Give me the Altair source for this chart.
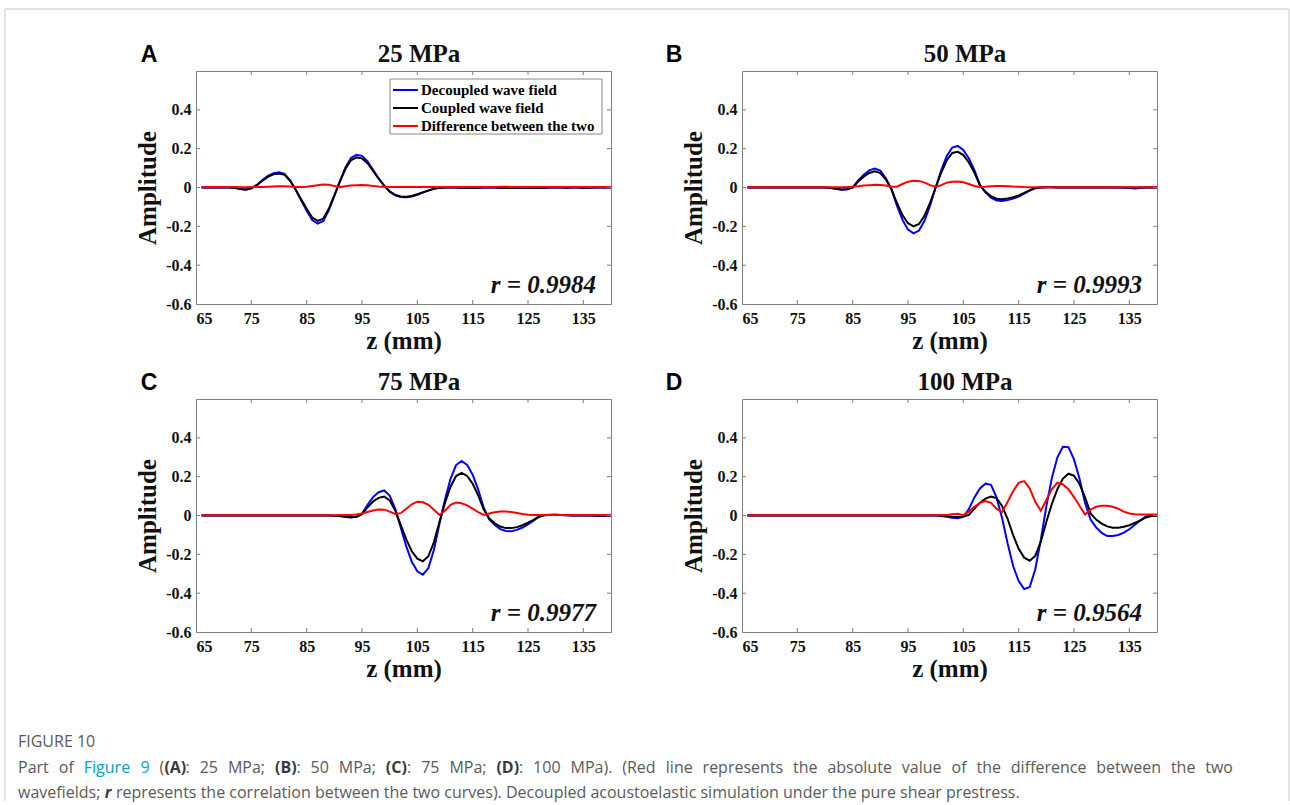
import altair as alt
import pandas as pd

# ---------------- data ----------------
z = list(range(66, 141))

A_dec = [0, 0, 0, 0, 0, 0, -0.002, -0.008, -0.011, -0.004,
         0.013, 0.038, 0.06, 0.074, 0.078, 0.07, 0.037, -0.012, -0.066, -0.12,
         -0.168, -0.186, -0.172, -0.118, -0.043, 0.032, 0.103, 0.152, 0.169, 0.163,
         0.135, 0.091, 0.048, 0.01, -0.022, -0.04, -0.049, -0.05, -0.046, -0.037,
         -0.026, -0.016, -0.007, -0.002, 0, 0.001, 0, -0.001, -0.002, -0.003,
         -0.001, 0, 0.001, 0, -0.002, -0.002, -0.003, -0.002, 0, -0.001,
         -0.003, -0.003, -0.001, 0, 0.001, 0, -0.001, 0, 0, -0.002,
         -0.001, 0, 0, 0, 0]
A_cou = [0, 0, 0, 0, 0, 0, -0.002, -0.008, -0.01, -0.004,
         0.012, 0.035, 0.055, 0.068, 0.072, 0.065, 0.035, -0.01, -0.06, -0.11,
         -0.155, -0.172, -0.16, -0.11, -0.04, 0.03, 0.095, 0.14, 0.155, 0.15,
         0.125, 0.085, 0.045, 0.01, -0.02, -0.038, -0.046, -0.048, -0.044, -0.035,
         -0.025, -0.015, -0.007, -0.002, 0, 0.001, 0, -0.001, -0.001, -0.002,
         -0.001, 0, 0.001, 0, -0.001, -0.002, -0.002, -0.001, 0, -0.001,
         -0.002, -0.002, -0.001, 0, 0.001, 0, -0.001, 0, 0, -0.001,
         -0.001, 0, 0, 0, 0]
A_diff = [0.001, 0.001, 0.002, 0.002, 0.003, 0.003, 0.002, 0.001, 0.001, 0.002,
          0.002, 0.003, 0.004, 0.005, 0.006, 0.006, 0.005, 0.003, 0.002, 0.004,
          0.008, 0.012, 0.015, 0.014, 0.008, 0.002, 0.006, 0.01, 0.012, 0.013,
          0.011, 0.008, 0.005, 0.003, 0.003, 0.003, 0.003, 0.003, 0.003, 0.003,
          0.002, 0.002, 0.002, 0.002, 0.002, 0.002, 0.002, 0.002, 0.002, 0.002,
          0.003, 0.003, 0.003, 0.003, 0.004, 0.004, 0.003, 0.002, 0.002, 0.002,
          0.003, 0.003, 0.002, 0.002, 0.002, 0.002, 0.002, 0.002, 0.002, 0.002,
          0.002, 0.002, 0.002, 0.002, 0.002]

B_dec = [0, 0, 0, 0, 0, 0, 0, 0, 0, 0,
         0, 0, 0, 0, 0, -0.002, -0.007, -0.012, -0.01, 0,
         0.036, 0.066, 0.088, 0.098, 0.087, 0.048, -0.009, -0.094, -0.166, -0.217,
         -0.236, -0.222, -0.17, -0.092, 0, 0.088, 0.162, 0.206, 0.214, 0.193,
         0.149, 0.089, 0.013, -0.025, -0.052, -0.067, -0.069, -0.064, -0.057, -0.047,
         -0.032, -0.016, -0.003, 0, 0.001, 0.001, 0, 0, 0, 0,
         0, 0, 0, 0, 0, 0, 0, 0, -0.001, -0.003,
         -0.005, -0.002, 0, 0, 0]
B_cou = [0, 0, 0, 0, 0, 0, 0, 0, 0, 0,
         0, 0, 0, 0, 0, -0.002, -0.006, -0.01, -0.008, 0,
         0.031, 0.056, 0.075, 0.083, 0.074, 0.041, -0.008, -0.08, -0.142, -0.184,
         -0.2, -0.188, -0.144, -0.078, 0, 0.076, 0.14, 0.178, 0.184, 0.167,
         0.129, 0.077, 0.011, -0.022, -0.045, -0.058, -0.06, -0.056, -0.05, -0.041,
         -0.028, -0.014, -0.003, 0, 0.001, 0.001, 0, 0, 0, 0,
         0, 0, 0, 0, 0, 0, 0, 0, 0, 0,
         0, 0, 0, 0, 0]
B_diff = [0.001, 0.001, 0.001, 0.001, 0.001, 0.001, 0.001, 0.001, 0.001, 0.001,
          0.001, 0.001, 0.001, 0.001, 0.001, 0.001, 0.001, 0.001, 0.002, 0.004,
          0.006, 0.01, 0.012, 0.014, 0.013, 0.01, 0.004, 0.004, 0.018, 0.03,
          0.035, 0.034, 0.025, 0.012, 0.003, 0.012, 0.025, 0.03, 0.031, 0.027,
          0.018, 0.008, 0.003, 0.004, 0.006, 0.008, 0.008, 0.007, 0.005, 0.004,
          0.002, 0.001, 0.001, 0.001, 0.001, 0.001, 0.001, 0.001, 0.001, 0.001,
          0.001, 0.001, 0.001, 0.001, 0.001, 0.001, 0.001, 0.001, 0.001, 0.001,
          0.001, 0.001, 0.001, 0.001, 0.001]

C_dec = [0, 0, 0, 0, 0, 0, 0, 0, 0, 0,
         0, 0, 0, 0, 0, 0, 0, 0, 0, 0,
         0, 0, 0, 0, -0.001, -0.003, -0.007, -0.01, -0.007, 0.009,
         0.055, 0.095, 0.12, 0.129, 0.103, 0.034, -0.062, -0.159, -0.238, -0.287,
         -0.305, -0.271, -0.177, -0.043, 0.083, 0.189, 0.26, 0.281, 0.261, 0.21,
         0.133, 0.04, -0.02, -0.049, -0.07, -0.08, -0.081, -0.074, -0.062, -0.046,
         -0.027, -0.006, 0.002, 0.004, 0.005, 0.003, 0.001, 0, 0, 0,
         0, -0.001, -0.002, -0.001, 0]
C_cou = [0, 0, 0, 0, 0, 0, 0, 0, 0, 0,
         0, 0, 0, 0, 0, 0, 0, 0, 0, 0,
         0, 0, 0, 0, -0.001, -0.003, -0.006, -0.009, -0.006, 0.007,
         0.042, 0.072, 0.091, 0.098, 0.078, 0.026, -0.048, -0.123, -0.184, -0.222,
         -0.236, -0.21, -0.137, -0.033, 0.065, 0.148, 0.203, 0.22, 0.204, 0.164,
         0.104, 0.031, -0.016, -0.04, -0.057, -0.065, -0.065, -0.06, -0.05, -0.037,
         -0.022, -0.005, 0.001, 0.003, 0.003, 0.002, 0.001, 0, 0, 0,
         0, 0, 0, 0, 0]
C_diff = [0.001, 0.001, 0.001, 0.001, 0.001, 0.001, 0.001, 0.001, 0.001, 0.001,
          0.001, 0.001, 0.001, 0.001, 0.001, 0.001, 0.001, 0.001, 0.001, 0.001,
          0.001, 0.001, 0.001, 0.001, 0.001, 0.002, 0.003, 0.003, 0.005, 0.01,
          0.018, 0.026, 0.031, 0.03, 0.02, 0.008, 0.012, 0.035, 0.058, 0.071,
          0.068, 0.055, 0.03, 0.003, 0.025, 0.055, 0.067, 0.063, 0.052, 0.035,
          0.017, 0.003, 0.01, 0.017, 0.02, 0.021, 0.018, 0.013, 0.008, 0.004,
          0.002, 0.002, 0.002, 0.002, 0.002, 0.002, 0.002, 0.002, 0.002, 0.002,
          0.002, 0.002, 0.002, 0.002, 0.002]

D_dec = [0, 0, 0, 0, 0, 0, 0, 0, 0, 0,
         0, 0, 0, 0, 0, 0, 0, 0, 0, 0,
         0, 0, 0, 0, 0, 0, 0, 0, 0, 0,
         0, 0, 0, 0, 0, -0.002, -0.006, -0.011, -0.014, -0.007,
         0.033, 0.093, 0.139, 0.164, 0.158, 0.093, -0.013, -0.143, -0.26, -0.338,
         -0.379, -0.368, -0.277, -0.126, 0.047, 0.193, 0.3, 0.354, 0.352, 0.289,
         0.189, 0.065, -0.021, -0.061, -0.09, -0.106, -0.106, -0.1, -0.088, -0.071,
         -0.048, -0.025, -0.005, -0.001, 0]
D_cou = [0, 0, 0, 0, 0, 0, 0, 0, 0, 0,
         0, 0, 0, 0, 0, 0, 0, 0, 0, 0,
         0, 0, 0, 0, 0, 0, 0, 0, 0, 0,
         0, 0, 0, 0, 0, -0.001, -0.003, -0.006, -0.008, -0.005,
         0.003, 0.036, 0.066, 0.087, 0.097, 0.09, 0.049, -0.017, -0.101, -0.172,
         -0.217, -0.233, -0.208, -0.135, -0.033, 0.06, 0.136, 0.19, 0.215, 0.205,
         0.162, 0.093, 0.011, -0.021, -0.042, -0.056, -0.063, -0.063, -0.058, -0.05,
         -0.038, -0.025, -0.01, -0.003, -0.001]
D_diff = [0.001, 0.001, 0.001, 0.001, 0.001, 0.001, 0.001, 0.001, 0.001, 0.001,
          0.001, 0.001, 0.001, 0.001, 0.001, 0.001, 0.001, 0.001, 0.001, 0.001,
          0.001, 0.001, 0.001, 0.001, 0.001, 0.001, 0.001, 0.001, 0.001, 0.001,
          0.001, 0.001, 0.001, 0.001, 0.001, 0.002, 0.003, 0.006, 0.009, 0.002,
          0.02, 0.045, 0.065, 0.074, 0.065, 0.035, 0.017, 0.07, 0.125, 0.168,
          0.177, 0.14, 0.07, 0.025, 0.08, 0.135, 0.169, 0.16, 0.135, 0.095,
          0.05, 0.005, 0.03, 0.045, 0.05, 0.05, 0.045, 0.035, 0.02, 0.01,
          0.006, 0.005, 0.005, 0.005, 0.005]

panel_titles = ["25 MPa", "50 MPa", "75 MPa", "100 MPa"]
panel_letters = ["A", "B", "C", "D"]
r_labels = ["r = 0.9984", "r = 0.9993", "r = 0.9977", "r = 0.9564"]
legend_labels = ["Decoupled wave field", "Coupled wave field", "Difference between the two"]
series_colors = ["#0000ff", "#000000", "#ff0000"]

x_ticks = [65, 75, 85, 95, 105, 115, 125, 135]
y_ticks = [-0.6, -0.4, -0.2, 0, 0.2, 0.4]

caption_title = "FIGURE 10"
# [..] = link colour, *..* = bold, ~..~ = bold italic
caption_line1 = "Part of [Figure 9] (*(A)*: 25 MPa; *(B)*: 50 MPa; *(C)*: 75 MPa; *(D)*: 100 MPa). (Red line represents the absolute value of the difference between the two"
caption_line2 = "wavefields; ~r~ represents the correlation between the two curves). Decoupled acoustoelastic simulation under the pure shear prestress."

# ---------------- layout constants ----------------
W, H = 415, 233
SERIF = "Liberation Serif"
SANS = "Liberation Sans"
CAP = "Open Sans"
CAPSIZE = 16
BOX = "#7f7f7f"
CAPCOL = "#5a5a5a"
LINKCOL = "#00a3c4"
BOLDCOL = "#3a3a3a"

xs = alt.Scale(domain=[65, 140], nice=False, zero=False)
ys = alt.Scale(domain=[-0.6, 0.6], nice=False, zero=False)
x_axis = alt.Axis(values=x_ticks, format="d", title="z (mm)", labelPadding=6, titlePadding=2)
y_axis = alt.Axis(values=y_ticks, title="Amplitude", labelPadding=5, titlePadding=5,
                  labelExpr="datum.value == 0 ? '0' : (datum.value < 0 ? '-' : '') + format(abs(datum.value), '.1f')")

one = pd.DataFrame({"k": [0]})


def txt(text, x, y, **kw):
    return alt.Chart(one).mark_text(text=text, **kw).encode(x=alt.value(x), y=alt.value(y))


def panel(dec, cou, diff, idx, lx, extra=None):
    df = pd.DataFrame({"z": z, "dec": dec, "cou": cou, "diff": diff})
    base = alt.Chart(df)
    X = alt.X("z:Q", scale=xs, axis=x_axis)
    layers = []
    for col, colr in zip(["dec", "cou", "diff"], series_colors):
        layers.append(base.mark_line(color=colr, strokeWidth=2).encode(
            x=X, y=alt.Y(f"{col}:Q", scale=ys, axis=y_axis)))
    xt = pd.DataFrame({"t": x_ticks[1:]})
    yt = pd.DataFrame({"t": y_ticks[1:]})
    TX = alt.X("t:Q", scale=xs, axis=x_axis)
    TY = alt.Y("t:Q", scale=ys, axis=y_axis)
    layers += [
        alt.Chart(xt).mark_rule(color=BOX).encode(x=TX, y=alt.value(H), y2=alt.value(H - 4)),
        alt.Chart(xt).mark_rule(color=BOX).encode(x=TX, y=alt.value(0), y2=alt.value(4)),
        alt.Chart(yt).mark_rule(color=BOX).encode(y=TY, x=alt.value(0), x2=alt.value(4)),
        alt.Chart(yt).mark_rule(color=BOX).encode(y=TY, x=alt.value(W), x2=alt.value(W - 4)),
    ]
    layers.append(txt(panel_titles[idx], 223, -17, font=SERIF, fontSize=25, fontWeight="bold",
                      align="center", baseline="middle", color="#111"))
    layers.append(txt(panel_letters[idx], lx, -16, font=SANS, fontSize=23, fontWeight="bold",
                      align="center", baseline="middle", color="#000"))
    layers.append(txt(r_labels[idx], 400, 214, font=SERIF, fontSize=25, fontWeight="bold",
                      fontStyle="italic", align="right", baseline="middle", color="#111"))
    if extra:
        layers += extra
    return alt.layer(*layers).properties(width=W, height=H)


# legend of panel A
legend_layers = [alt.Chart(one).mark_rect(fill="white", stroke="#888", strokeWidth=1).encode(
    x=alt.value(194), x2=alt.value(406), y=alt.value(8), y2=alt.value(63))]
for i, (lab, colr) in enumerate(zip(legend_labels, series_colors)):
    yy = 19 + 18 * i
    legend_layers.append(alt.Chart(one).mark_rule(color=colr, strokeWidth=2).encode(
        x=alt.value(197), x2=alt.value(222), y=alt.value(yy)))
    legend_layers.append(txt(lab, 225, yy, font=SERIF, fontSize=15, fontWeight="bold",
                             align="left", baseline="middle", color="#000"))

# ---------------- caption typesetting (approximate Open Sans advance widths, em) ----------------
CW = {' ': 0.26, 'a': 0.556, 'b': 0.613, 'c': 0.476, 'd': 0.613, 'e': 0.561, 'f': 0.339, 'g': 0.548,
      'h': 0.614, 'i': 0.253, 'j': 0.253, 'k': 0.53, 'l': 0.253, 'm': 0.93, 'n': 0.614, 'o': 0.604,
      'p': 0.613, 'q': 0.613, 'r': 0.408, 's': 0.477, 't': 0.353, 'u': 0.614, 'v': 0.501, 'w': 0.778,
      'x': 0.524, 'y': 0.502, 'z': 0.468, '(': 0.297, ')': 0.297, '.': 0.266, ':': 0.266, ';': 0.266,
      'F': 0.544, 'M': 0.885, 'P': 0.613, 'R': 0.631, 'D': 0.71, 'A': 0.633, 'B': 0.647, 'C': 0.631}


def tw(s, style):
    w = sum(CW.get(ch, 0.572 if ch.isdigit() else 0.56) for ch in s) * CAPSIZE
    return w * (1.08 if style in ("b", "bi") else 1.0)


def parse(line):
    words, runs, cur, style = [], [], "", "n"
    for ch in line + " ":
        if ch in "[]*~ ":
            if cur:
                runs.append((cur, style))
                cur = ""
            if ch == " ":
                if runs:
                    words.append(runs)
                runs = []
            elif ch == "[":
                style = "t"
            elif ch == "]":
                style = "n"
            elif ch == "*":
                style = "b" if style != "b" else "n"
            elif ch == "~":
                style = "bi" if style != "bi" else "n"
        else:
            cur += ch
    return words


STYLE = {"n": dict(color=CAPCOL), "t": dict(color=LINKCOL),
         "b": dict(color=BOLDCOL, fontWeight="bold"),
         "bi": dict(color=BOLDCOL, fontWeight="bold", fontStyle="italic")}


def set_line(line, x0, y, x_end=None):
    words = parse(line)
    widths = [sum(tw(t, s) for t, s in w) for w in words]
    if x_end is None:
        gap = CW[' '] * CAPSIZE
    else:
        gap = (x_end - x0 - sum(widths)) / (len(words) - 1)
    out, x = [], x0
    for w, wd in zip(words, widths):
        xx = x
        for t, s in w:
            out.append((t, xx, y, s))
            xx += tw(t, s)
        x += wd + gap
    return out


# frame + caption (drawn from panel C, whose plot origin is at page (195, 398))
OX, OY = 195, 398
frame_col = "#c8c8c8"
cap_layers = [
    alt.Chart(one).mark_rule(color=frame_col).encode(x=alt.value(4 - OX), x2=alt.value(1288 - OX), y=alt.value(8 - OY)),
    alt.Chart(one).mark_rule(color=frame_col).encode(x=alt.value(4 - OX), y=alt.value(8 - OY), y2=alt.value(800 - OY)),
    alt.Chart(one).mark_rule(color=frame_col).encode(x=alt.value(1288 - OX), y=alt.value(8 - OY), y2=alt.value(800 - OY)),
    txt(caption_title, 17 - OX, 741 - OY, font=CAP, fontSize=CAPSIZE, align="left", baseline="middle", color=CAPCOL),
]
# line 1 is justified to the full text width, line 2 (last line) is not
pieces = set_line(caption_line1, 17, 767, x_end=1232)
# line 2: merge consecutive same-style words into single runs
words2 = parse(caption_line2)
runs2 = []
for w in words2:
    for t, s in w:
        if runs2 and runs2[-1][1] == s and t is w[0][0]:
            runs2[-1] = (runs2[-1][0] + " " + t, s)
        else:
            runs2.append((t, s))
x = 17
for k, (t, s) in enumerate(runs2):
    pieces.append((t, x, 792, s))
    x += tw(t, s) + CW[' '] * CAPSIZE
for t, xx, yy, s in pieces:
    cap_layers.append(txt(t, round(xx - OX, 1), yy - OY, font=CAP, fontSize=CAPSIZE,
                          align="left", baseline="middle", **STYLE[s]))

pA = panel(A_dec, A_cou, A_diff, 0, -47, legend_layers)
pB = panel(B_dec, B_cou, B_diff, 1, -68)
pC = panel(C_dec, C_cou, C_diff, 2, -47, cap_layers)
pD = panel(D_dec, D_cou, D_diff, 3, -68)

chart = alt.concat(pA, pB, pC, pD, columns=2, spacing={"row": 95, "column": 131}, bounds="flush").properties(
    padding={"left": 4, "top": 8, "right": 0, "bottom": 0},
    background="white",
).configure_view(stroke=BOX, strokeWidth=1).configure_axis(
    grid=False, domain=False, ticks=False,
    labelFont=SERIF, labelFontSize=16, labelFontWeight="bold", labelColor="#111",
    titleFont=SERIF, titleFontSize=25, titleFontWeight="bold", titleColor="#111",
)

chart.save("out.html", embed_options={"renderer": "svg", "actions": False})
